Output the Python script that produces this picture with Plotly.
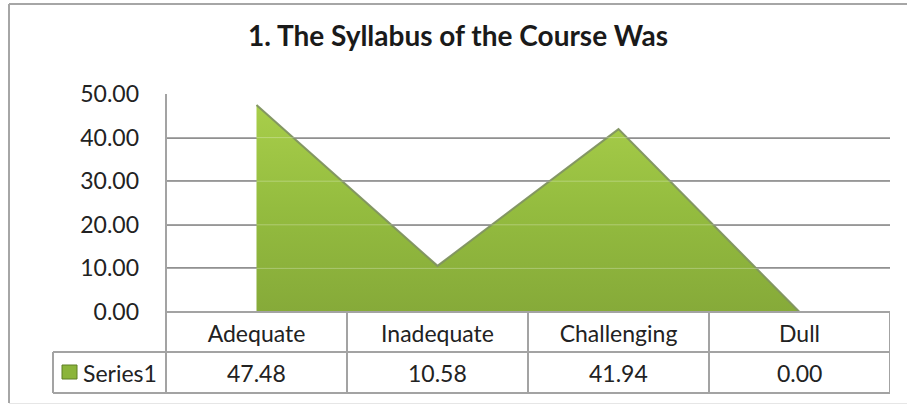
import plotly.graph_objects as go

categories = ["Adequate", "Inadequate", "Challenging", "Dull"]
values = [47.48, 10.58, 41.94, 0.00]
y_ticks = [0, 10, 20, 30, 40, 50]
series_name = "Series1"
title_text = "1. The Syllabus of the Course Was"

W, H = 907, 405
PX0, PX1, PY0, PY1 = 166, 890, 94, 312  # plot area in pixels
PW, PH = PX1 - PX0, PY1 - PY0


def py(y):  # pixel y -> paper y
    return (PY1 - y) / PH


def px(x):  # pixel x -> paper x
    return (x - PX0) / PW


FONT = "Lato"
GRID = "#8e8e8e"
TBL = "#a3a3a3"

xs = list(range(len(categories)))

fig = go.Figure()
fig.add_trace(go.Scatter(
    x=xs, y=values, mode="lines", fill="tozeroy",
    line=dict(color="rgba(128,146,96,0.95)", width=2),
    fillgradient=dict(type="vertical",
                      colorscale=[[0, "#86aa39"], [0.5, "#94bc3f"], [1, "#a8ce4a"]]),
    showlegend=False, hoverinfo="skip",
))

shapes = []
# faint gridlines showing through the area
for t in y_ticks[1:-1]:
    shapes.append(dict(type="line", xref="paper", yref="y", x0=0, x1=1, y0=t, y1=t,
                       layer="above", line=dict(color="rgba(255,255,255,0.28)", width=1)))
# outer chart border
shapes.append(dict(type="line", xref="paper", yref="paper",
                   x0=px(9), x1=px(915), y0=py(4), y1=py(4),
                   line=dict(color="#a6a6a6", width=2)))
shapes.append(dict(type="line", xref="paper", yref="paper",
                   x0=px(9), x1=px(9), y0=py(4), y1=py(403),
                   line=dict(color="#a6a6a6", width=2)))
shapes.append(dict(type="line", xref="paper", yref="paper",
                   x0=px(9), x1=px(915), y0=py(403.5), y1=py(403.5),
                   line=dict(color="#e6e6e6", width=1)))
# table horizontal lines
shapes.append(dict(type="line", xref="x", yref="paper", x0=-0.5, x1=3.5, y0=0, y1=0,
                   line=dict(color=TBL, width=2)))
for yy in (352, 393):
    shapes.append(dict(type="line", xref="paper", yref="paper",
                       x0=px(53), x1=1, y0=py(yy), y1=py(yy),
                       line=dict(color=TBL, width=2)))
# table vertical lines
shapes.append(dict(type="line", xref="paper", yref="paper", x0=0, x1=0,
                   y0=1, y1=py(393), line=dict(color=TBL, width=2)))
shapes.append(dict(type="line", xref="paper", yref="paper", x0=px(53), x1=px(53),
                   y0=py(352), y1=py(393), line=dict(color=TBL, width=2)))
for b in (0.5, 1.5, 2.5, 3.5):
    shapes.append(dict(type="line", xref="x", yref="paper", x0=b, x1=b,
                       y0=0, y1=py(393), line=dict(color=TBL, width=2)))
# legend key
shapes.append(dict(type="rect", xref="paper", yref="paper",
                   x0=px(62), x1=px(77), y0=py(365), y1=py(379),
                   fillcolor="#8bb43a", line=dict(color="#5f7f25", width=1)))

annotations = []
for i, v in enumerate(values):
    annotations.append(dict(x=i, y=py(372.5), xref="x", yref="paper",
                            text=f"{v:.2f}", showarrow=False,
                            font=dict(family=FONT, size=23, color="#222222"),
                            xanchor="center", yanchor="middle"))
annotations.append(dict(x=px(81), y=py(372.5), xref="paper", yref="paper",
                        text=series_name, showarrow=False,
                        font=dict(family=FONT, size=23, color="#222222"),
                        xanchor="left", yanchor="middle"))

fig.update_layout(
    width=W, height=H,
    margin=dict(l=PX0, r=W - PX1, t=PY0, b=H - PY1),
    paper_bgcolor="white", plot_bgcolor="white",
    title=dict(text=f"<b>{title_text}</b>", x=458 / W, xanchor="center",
               y=1 - 36 / H, yanchor="middle",
               font=dict(family=FONT, size=28, color="#1a1a1a")),
    xaxis=dict(range=[-0.5, 3.5], tickvals=xs, ticktext=categories,
               showgrid=False, zeroline=False, showline=False, ticks="",
               ticklabelstandoff=6,
               tickfont=dict(family=FONT, size=23, color="#222222")),
    yaxis=dict(range=[0, 50], tickvals=y_ticks, tickformat=".2f",
               showgrid=True, gridcolor=GRID, gridwidth=1.5,
               zeroline=False, showline=False, ticks="",
               ticklabelstandoff=26,
               tickfont=dict(family=FONT, size=23, color="#222222")),
    shapes=shapes, annotations=annotations,
)

fig.write_html("out.html", config={"displayModeBar": False},
               post_script="document.body.style.margin='0';document.body.style.overflow='hidden';")
